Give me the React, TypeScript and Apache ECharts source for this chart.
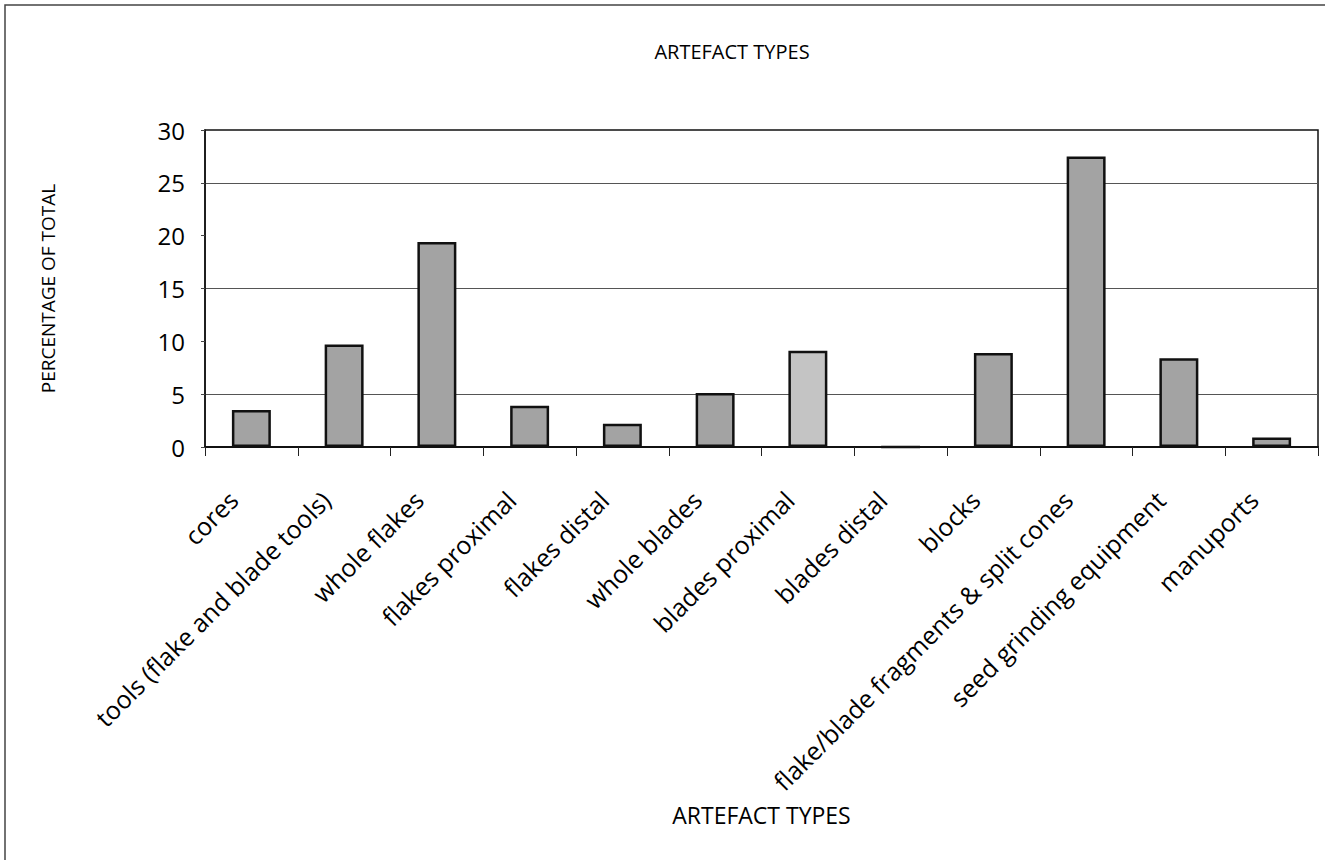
import React, { useEffect, useRef } from "react";
import * as echarts from "echarts";

const categories = [
  "cores",
  "tools (flake and blade tools)",
  "whole flakes",
  "flakes proximal",
  "flakes distal",
  "whole blades",
  "blades proximal",
  "blades distal",
  "blocks",
  "flake/blade fragments & split cones",
  "seed grinding equipment",
  "manuports",
];
const percentages = [3.5, 9.7, 19.4, 3.9, 2.2, 5.1, 9.1, 0, 8.9, 27.5, 8.4, 0.9];
const yTicks = { min: 0, max: 30, interval: 5 };
const titleText = "ARTEFACT TYPES";
const xAxisName = "ARTEFACT TYPES";
const yAxisName = "PERCENTAGE OF TOTAL";

const FONT = "'Open Sans', 'DejaVu Sans', sans-serif";

export default function App() {
  const ref = useRef<HTMLDivElement>(null);
  useEffect(() => {
    if (!ref.current) return;
    const chart = echarts.init(ref.current, null, { renderer: "svg" });
    chart.setOption({
      animation: false,
      backgroundColor: "#ffffff",
      title: {
        text: titleText,
        left: 727,
        top: 36,
        textAlign: "center",
        textStyle: { fontFamily: FONT, fontSize: 20, fontWeight: "normal", color: "#000" },
      },
      graphic: [
        {
          type: "rect",
          shape: { x: 5, y: 5, width: 1340, height: 880 },
          style: { fill: "none", stroke: "#444", lineWidth: 1.5 },
          silent: true,
        },
      ],
      grid: {
        left: 205,
        top: 130,
        right: 7,
        bottom: 413,
        show: true,
        borderColor: "#111",
        borderWidth: 1.5,
      },
      xAxis: {
        type: "category",
        data: categories,
        name: xAxisName,
        nameLocation: "middle",
        nameGap: 356,
        nameTextStyle: { fontFamily: FONT, fontSize: 23, color: "#000" },
        axisLine: { lineStyle: { color: "#111", width: 2 } },
        axisTick: { show: true, length: 9, lineStyle: { color: "#222", width: 1 } },
        axisLabel: {
          interval: 0,
          rotate: 45,
          margin: 30,
          padding: [0, 26, 0, 0],
          fontFamily: FONT,
          fontSize: 25,
          color: "#000",
        },
      },
      yAxis: {
        type: "value",
        min: yTicks.min,
        max: yTicks.max,
        interval: yTicks.interval,
        name: yAxisName,
        nameLocation: "middle",
        nameGap: 148,
        nameRotate: 90,
        nameTextStyle: { fontFamily: FONT, fontSize: 19, color: "#000" },
        axisLine: { show: true, lineStyle: { color: "#111", width: 1.5 } },
        axisTick: { show: true, length: 4, lineStyle: { color: "#444" } },
        axisLabel: { margin: 20, fontFamily: FONT, fontSize: 24, color: "#000" },
        splitLine: {
          show: true,
          lineStyle: { color: ["rgba(0,0,0,0)", "#555"], width: 1 },
        },
      },
      series: [
        {
          type: "bar",
          data: percentages.map((v, i) => ({
            value: v,
            itemStyle: { color: i === 6 ? "#c4c4c4" : "#a3a3a3" },
          })),
          barWidth: "42%",
          itemStyle: { borderColor: "#111", borderWidth: 2.5 },
        },
      ],
    });
    return () => chart.dispose();
  }, []);
  return (
    <div
      ref={ref}
      style={{ position: "fixed", left: 0, top: 0, width: 1325, height: 860 }}
    />
  );
}
